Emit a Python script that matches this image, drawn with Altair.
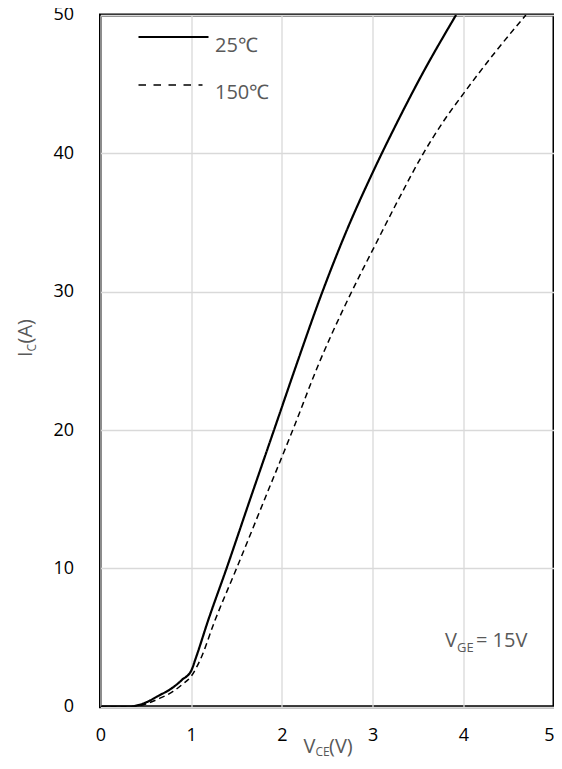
import altair as alt
import pandas as pd

# ---- data ----
vce_25 = [0, 0.3, 0.5, 0.62, 0.8, 0.9, 1.0, 1.05, 1.185, 1.39, 1.65, 1.913, 2.17, 2.43, 2.7, 3.0, 3.26, 3.52, 3.92]
ic_25 = [0, 0, 0.3, 0.72, 1.4, 1.95, 2.6, 3.5, 6.2, 10, 15, 20, 24.9, 29.7, 34.2, 38.6, 42.1, 45.4, 50]

vce_150 = [0, 0.35, 0.5, 0.65, 0.8, 0.9, 1.0, 1.1, 1.26, 1.5, 1.81, 2.12, 2.42, 2.66, 2.86, 3.0, 3.28, 3.56, 3.78, 4.0, 4.35, 4.69]
ic_150 = [0, 0, 0.2, 0.6, 1.1, 1.6, 2.2, 3.4, 6.2, 10, 15, 20, 25, 28.5, 31.2, 33.0, 36.6, 40, 42.3, 44.3, 47.3, 50]

series_names = ["25℃", "150℃"]
x_ticks = [0, 1, 2, 3, 4, 5]
y_ticks = [0, 10, 20, 30, 40, 50]

df = pd.concat([
    pd.DataFrame({"vce": vce_25, "ic": ic_25, "series": series_names[0]}),
    pd.DataFrame({"vce": vce_150, "ic": ic_150, "series": series_names[1]}),
])

W, H = 453.5, 691.7
FONT = "Open Sans"
GRAY = "#595959"

axis_common = dict(title=None, grid=True, gridColor="#d9d9d9", gridWidth=1.3, ticks=False,
                   domain=False, labelFontSize=18, labelFont=FONT, labelColor="black",
                   labelFlush=False)

x_enc = alt.X("vce:Q", scale=alt.Scale(domain=[0, 5], nice=False),
              axis=alt.Axis(values=x_ticks, labelPadding=20,
                            labelAlign={"condition": {"test": "datum.value == 5", "value": "right"},
                                        "value": "center"},
                            **axis_common))
y_enc = alt.Y("ic:Q", scale=alt.Scale(domain=[0, 50], nice=False),
              axis=alt.Axis(values=y_ticks, labelPadding=27, **axis_common))

lines = alt.Chart(df).mark_line(color="black", clip=True, interpolate="monotone").encode(
    x=x_enc, y=y_enc,
    detail="series:N",
    strokeDash=alt.StrokeDash("series:N", scale=alt.Scale(domain=series_names, range=[[1, 0], [6, 4]]), legend=None),
    strokeWidth=alt.StrokeWidth("series:N", scale=alt.Scale(domain=series_names, range=[2.2, 1.5]), legend=None),
)


def txt(s, x, y, size=20, angle=0, align="left", color=GRAY):
    kw = dict(font=FONT, fontSize=size, color=color, align=align, baseline="alphabetic")
    if angle:
        kw["angle"] = angle
    return alt.Chart(pd.DataFrame({"t": [s]})).mark_text(**kw).encode(
        text="t:N", x=alt.value(x), y=alt.value(y))


def rule(x1, x2, y, dash=None, width=2.2):
    kw = dict(color="black", strokeWidth=width)
    if dash:
        kw["strokeDash"] = dash
    return alt.Chart(pd.DataFrame({"a": [0]})).mark_rule(**kw).encode(
        x=alt.value(x1), x2=alt.value(x2), y=alt.value(y))


layers = [
    lines,
    # legend
    rule(38, 108, 22),
    rule(38, 102, 70, dash=[7.5, 7.5], width=1.6),
    txt(series_names[0], 114.5, 37),
    txt(series_names[1], 114.5, 84),
    # V_GE annotation
    txt("V", 344.5, 632),
    txt("GE", 356.5, 637, size=13),
    txt("= 15V", 375.5, 632),
    # x title
    txt("V", 215, 738, align="right"),
    txt("CE", 215, 741.5, size=12),
    txt("(V)", 228.5, 738),
    # y title
    txt("I", -68.5, 342, angle=270),
    txt("C", -64.5, 336.4, size=12, angle=270),
    txt("(A)", -68.5, 328.5, angle=270),
]

chart = alt.layer(*layers).properties(
    width=W, height=H,
    autosize=alt.AutoSizeParams(type="none"),
    padding={"left": 92.5, "top": 7, "right": 0, "bottom": 53},
).configure_view(stroke="black", strokeWidth=3)

chart.save("out.html", embed_options={"renderer": "svg", "actions": False})
